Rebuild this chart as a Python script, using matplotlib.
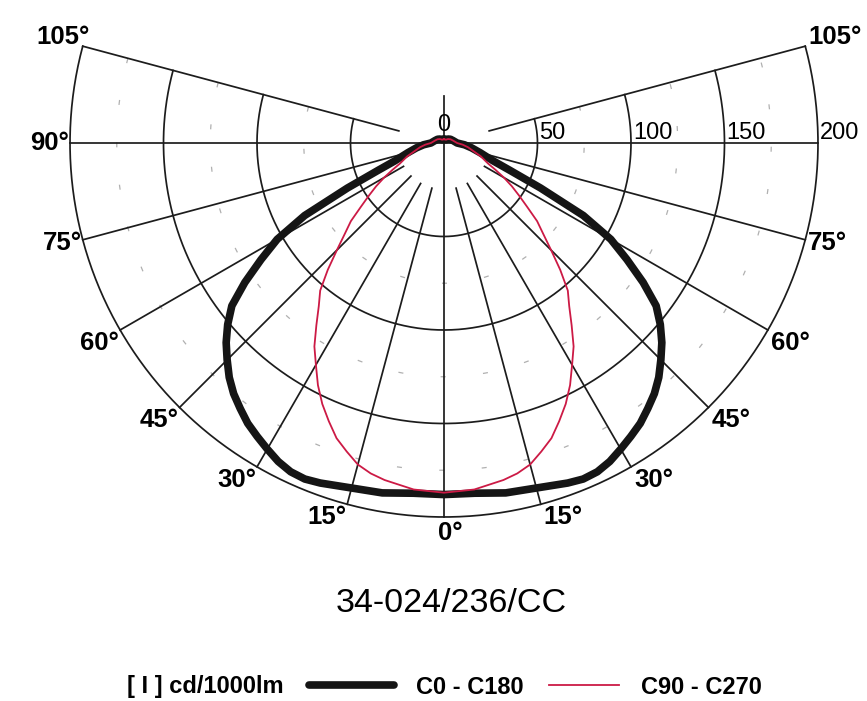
import numpy as np
import matplotlib
matplotlib.use("Agg")
import matplotlib.pyplot as plt
from matplotlib.legend_handler import HandlerLine2D

plt.rcParams["font.family"] = ["Liberation Sans", "DejaVu Sans"]

# luminous intensity, cd/1000lm, by gamma angle (deg from nadir)
gamma_c0 = [0, 5, 10, 15, 20, 22.5, 25, 27.5, 30, 32.5, 35, 37.5, 40, 42.5, 45, 47.5,
            50, 52.5, 55, 57.5, 60, 62.5, 65, 67.5, 70, 75, 80, 85, 90,
            105, 120, 135, 150, 165, 180]
cd_c0 = [188, 188, 190, 191, 193.5, 194.5, 194, 192, 189, 186, 183, 179, 175, 170, 164, 158,
         151, 143, 130, 116, 103, 84, 57, 38, 28, 20, 15, 11, 7,
         5, 4, 3, 2, 2, 2]

gamma_c90 = [0, 5, 10, 12.5, 15, 17.5, 20, 22.5, 25, 27.5, 30, 32.5, 35, 37.5, 40,
             42.5, 45, 47.5, 50, 52.5, 55, 57.5, 60, 62.5, 65, 70, 75, 80, 85, 90,
             105, 120, 135, 150, 165, 180]
cd_c90 = [187, 186, 183, 181, 178, 173, 168, 161, 154, 146, 137, 129, 119, 110, 103,
          92, 81, 72, 65, 56, 49, 43, 37, 31, 26, 21, 16, 13, 10, 7,
          5, 4, 3, 2, 2, 2]

ring_values = [50, 100, 150, 200]
minor_rings = [75, 125, 175]
spoke_angles = [15, 30, 45, 60, 75, 105]
angle_labels = [0, 15, 30, 45, 60, 75, 90, 105]

title = "34-024/236/CC"
unit_label = "[ I ] cd/1000lm"
series_labels = ["C0 - C180", "C90 - C270"]

W, H = 867, 701
R_MAX = 215
PX = 1.87            # pixels per cd/1000lm
CX, CY = 444, 143    # pole position in pixels
GRID = "#1c1c1c"
GLW = 1.25


class TrimmedLine(HandlerLine2D):
    """Legend line that fills only the right part of the handle box."""

    def __init__(self, frac, **kw):
        super().__init__(**kw)
        self.frac = frac

    def get_xdata(self, legend, xdescent, ydescent, width, height, fontsize):
        xdata, xmark = super().get_xdata(legend, xdescent, ydescent, width, height, fontsize)
        xdata = np.asarray(xdata, dtype=float)
        xdata[0] = xdata[-1] - self.frac * width
        return xdata, xmark


fig = plt.figure(figsize=(W / 100, H / 100), dpi=100)
rad = R_MAX * PX
ax = fig.add_axes([(CX - rad) / W, (H - CY - rad) / H, 2 * rad / W, 2 * rad / H],
                  projection="polar")
ax.set_theta_zero_location("S")
ax.set_theta_direction(1)
ax.set_ylim(0, R_MAX)
ax.set_axis_off()

arc = np.radians(np.linspace(-105, 105, 400))
for r in ring_values:
    ax.plot(arc, np.full_like(arc, r), color=GRID, lw=GLW, zorder=1)
for r in minor_rings:
    ax.plot(arc, np.full_like(arc, r), color="#b0b0b0", lw=0.9,
            linestyle=(0, (4, 30)), zorder=0)
for a in spoke_angles:
    for s in (-1, 1):
        t = np.radians(s * a)
        ax.plot([t, t], [25, 200], color=GRID, lw=GLW, zorder=1)
# nadir axis and horizontal through the pole
ax.plot([0, 0], [0, 200], color=GRID, lw=GLW, zorder=1)
ax.plot([np.pi, np.pi], [0, 25], color=GRID, lw=GLW, zorder=1)
for s in (-1, 1):
    ax.plot([s * np.pi / 2] * 2, [0, 200], color=GRID, lw=GLW, zorder=1)


def mirrored(gam, val):
    g = np.radians(np.asarray(gam, dtype=float))
    v = np.asarray(val, dtype=float)
    return np.concatenate([-g[::-1], g[1:]]), np.concatenate([v[::-1], v[1:]])


t0, r0 = mirrored(gamma_c0, cd_c0)
t90, r90 = mirrored(gamma_c90, cd_c90)
l0, = ax.plot(t0, r0, color="#151515", lw=5.5, solid_joinstyle="round",
              solid_capstyle="round", zorder=3, label=series_labels[0])
l90, = ax.plot(t90, r90, color="#cc1a45", lw=1.3, zorder=4, label=series_labels[1])

# intensity scale along the right horizontal
for r in ring_values:
    ax.annotate(str(r), xy=(np.pi / 2, r), xytext=(2, 4), textcoords="offset pixels",
                ha="left", va="baseline", fontsize=17, annotation_clip=False)
ax.annotate("0", xy=(0, 0), xytext=(0, 12), textcoords="offset pixels",
            ha="center", va="baseline", fontsize=17, annotation_clip=False)

# gamma labels around the outer ring
for a in angle_labels:
    if a <= 60:
        dy = -13
    elif a == 75:
        dy = -3
    elif a == 90:
        dy = 0
    else:
        dy = 9
    sides = (0,) if a == 0 else ((-1,) if a == 90 else (-1, 1))
    for s in sides:
        if s == 0:
            ha, dx, dy0 = "center", 6, -16
        elif s < 0:
            ha, dx, dy0 = "right", (7 if a == 105 else -1), dy
        else:
            ha, dx, dy0 = "left", 3, dy
        ax.annotate(f"{a}°", xy=(np.radians(s * a), 200), xytext=(dx, dy0),
                    textcoords="offset pixels", ha=ha, va="center",
                    fontsize=18.5, fontweight="bold", annotation_clip=False)

fig.text(451 / W, 1 - 603 / H, title, ha="center", va="center", fontsize=24.5,
         family=["Liberation Sans Narrow", "Liberation Sans", "DejaVu Sans"])

fig.text(127 / W, 1 - 687 / H, unit_label, ha="left", va="center",
         fontsize=17, fontweight="bold")
fig.legend(handles=[l0, l90], loc="center left", bbox_to_anchor=(297 / W, 1 - 687 / H),
           ncol=2, frameon=False, borderpad=0, handlelength=3.6, handletextpad=0.95,
           columnspacing=0.42, prop={"size": 17, "weight": "bold"},
           handler_map={l90: TrimmedLine(0.82)})

fig.savefig("out.png", dpi=100, facecolor="white")
